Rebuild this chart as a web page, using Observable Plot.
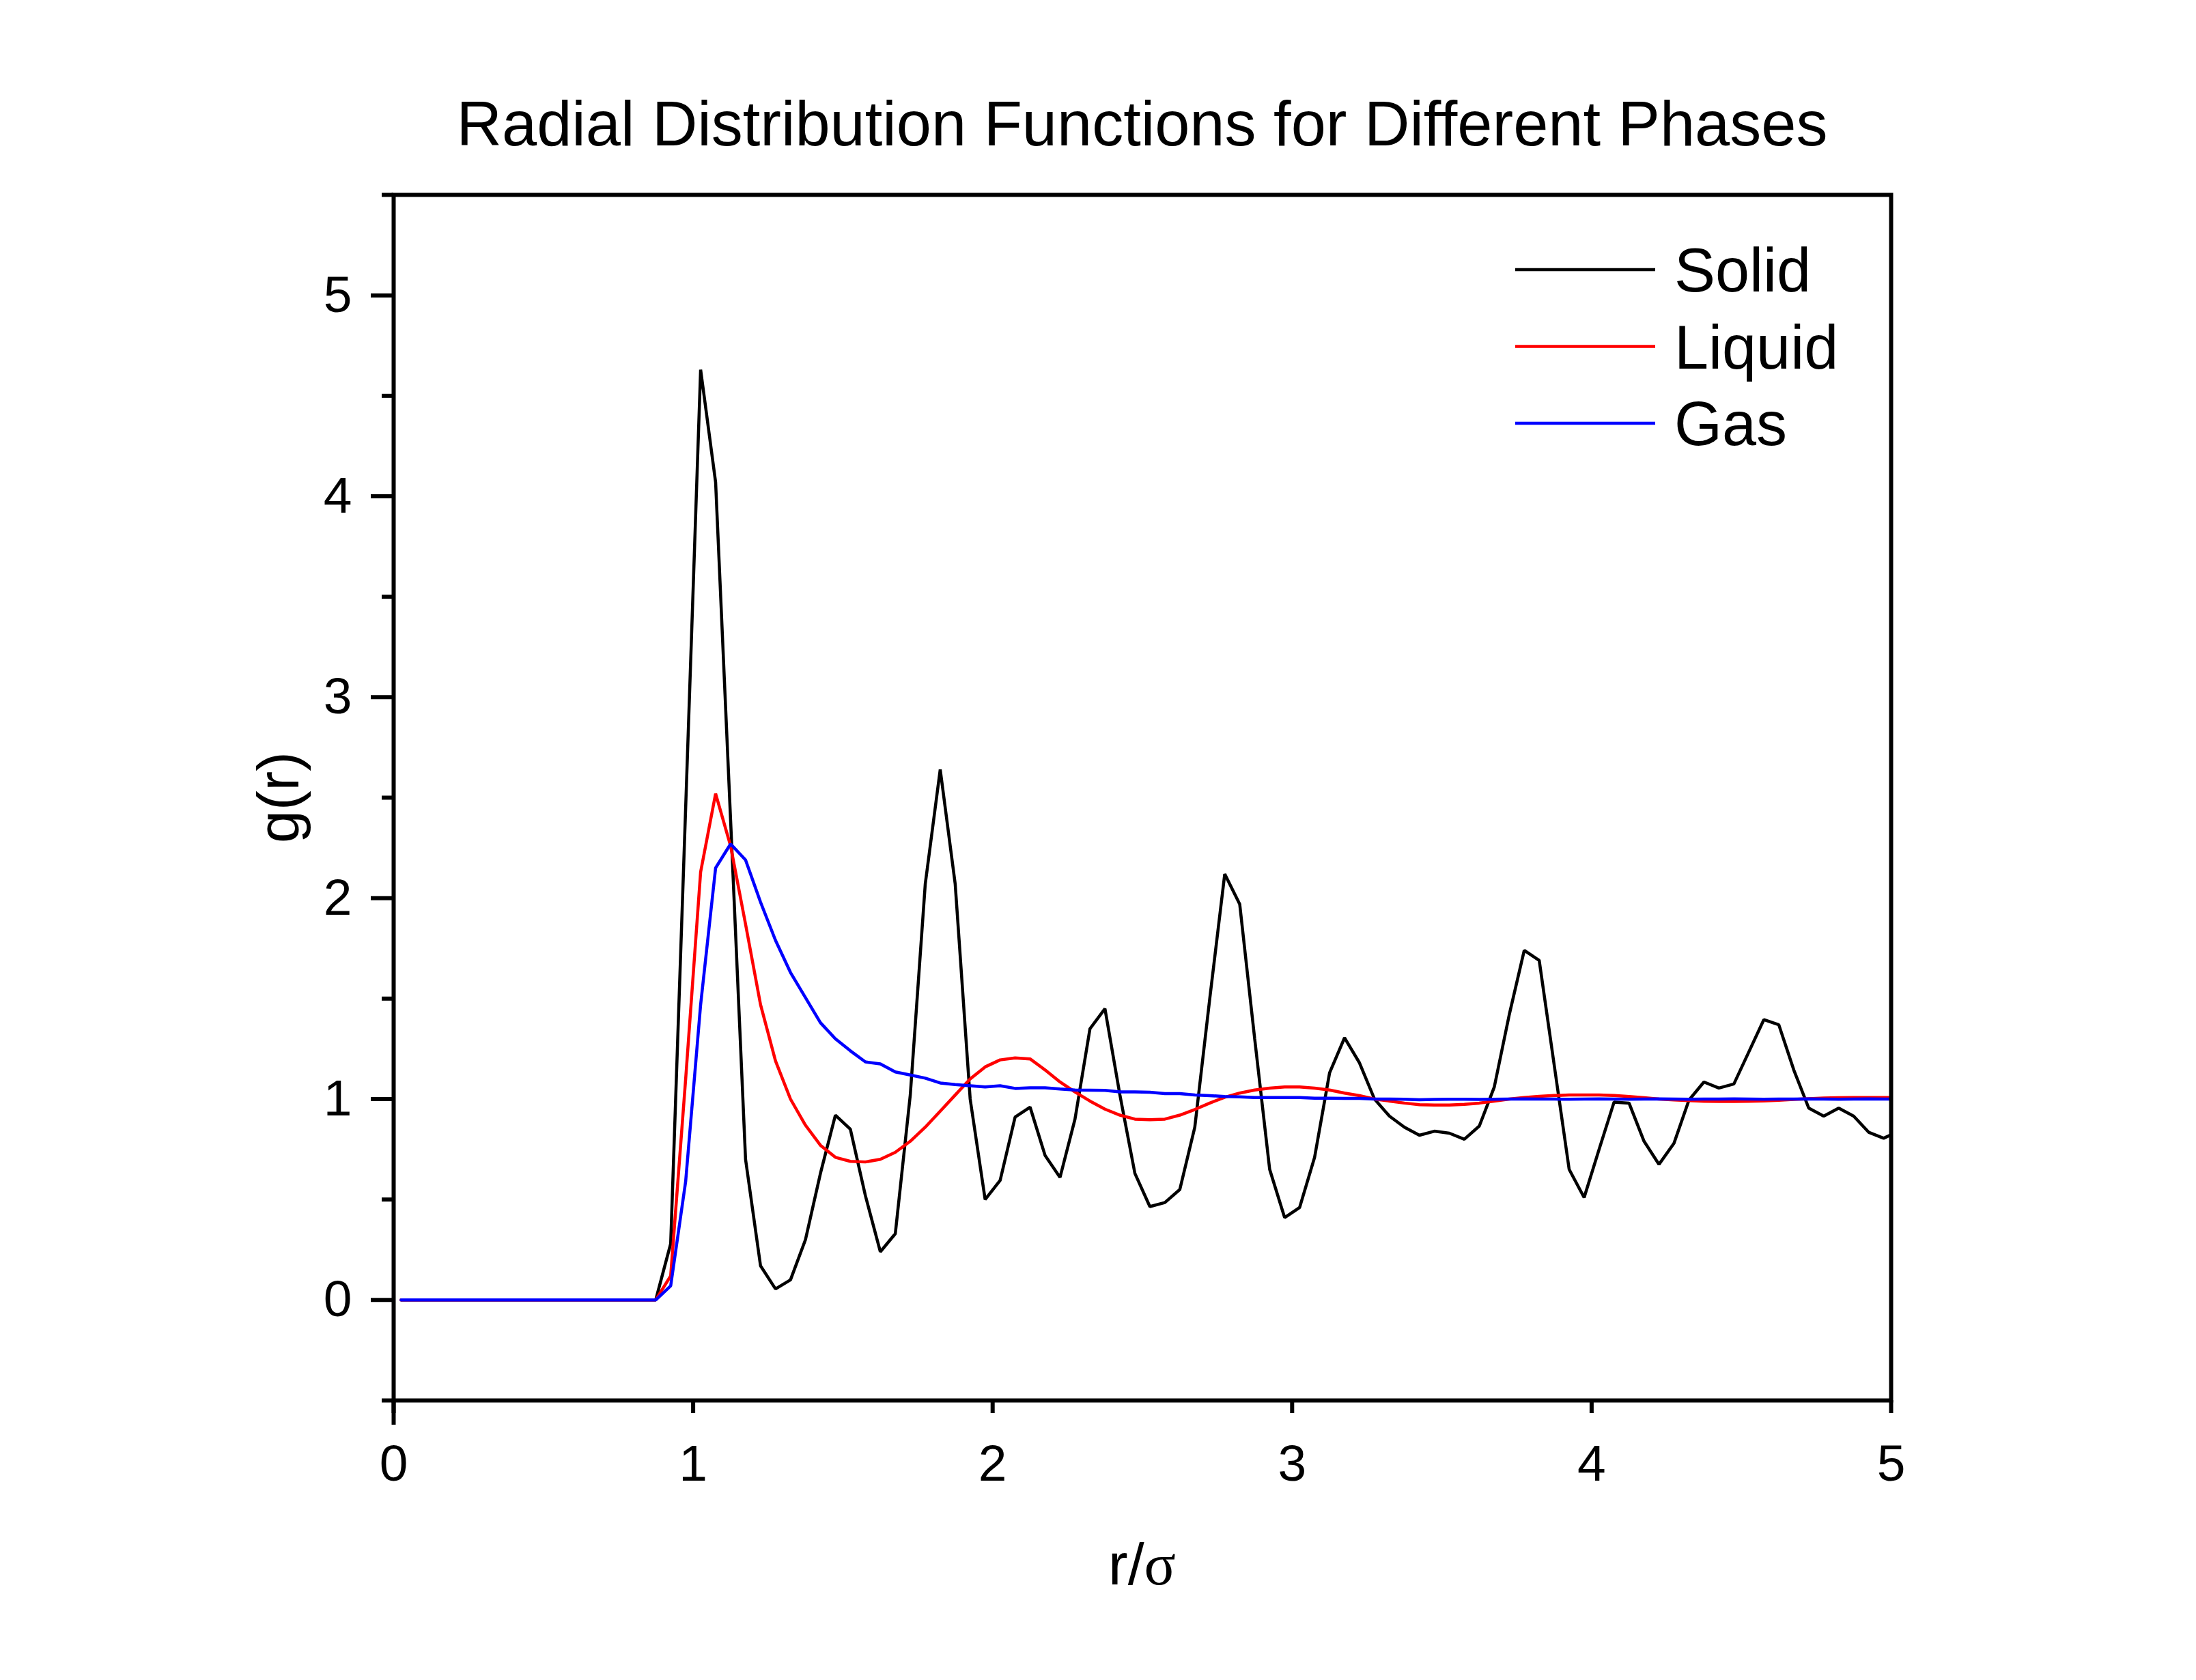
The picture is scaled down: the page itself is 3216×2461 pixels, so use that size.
<!DOCTYPE html>
<html><head><meta charset="utf-8">
<script src="https://cdn.jsdelivr.net/npm/d3@7"></script>
<script src="https://cdn.jsdelivr.net/npm/@observablehq/plot@0.6"></script>
<style>html,body{margin:0;padding:0;background:#fff;}</style>
</head><body><div id="chart"></div>
<script>
const R = [0.025,0.075,0.125,0.175,0.225,0.275,0.325,0.375,0.425,0.475,
0.525,0.575,0.625,0.675,0.725,0.775,0.825,0.875,0.925,0.975,
1.025,1.075,1.125,1.175,1.225,1.275,1.325,1.375,1.425,1.475,
1.525,1.575,1.625,1.675,1.725,1.775,1.825,1.875,1.925,1.975,
2.025,2.075,2.125,2.175,2.225,2.275,2.325,2.375,2.425,2.475,
2.525,2.575,2.625,2.675,2.725,2.775,2.825,2.875,2.925,2.975,
3.025,3.075,3.125,3.175,3.225,3.275,3.325,3.375,3.425,3.475,
3.525,3.575,3.625,3.675,3.725,3.775,3.825,3.875,3.925,3.975,
4.025,4.075,4.125,4.175,4.225,4.275,4.325,4.375,4.425,4.475,
4.525,4.575,4.625,4.675,4.725,4.775,4.825,4.875,4.925,4.975,5.025];

const solid = [0,0,0,0,0,0,0,0,0,0,
0,0,0,0,0,0,0,0,0.28,2.45,
4.63,4.07,2.39,0.70,0.17,0.055,0.10,0.30,0.63,0.92,
0.85,0.52,0.24,0.33,1.02,2.07,2.64,2.07,1.00,0.50,
0.595,0.91,0.96,0.72,0.61,0.90,1.35,1.45,1.02,0.63,
0.465,0.485,0.55,0.86,1.50,2.12,1.97,1.30,0.65,0.41,
0.46,0.71,1.13,1.305,1.18,1.00,0.915,0.86,0.82,0.84,
0.83,0.80,0.866,1.06,1.42,1.74,1.69,1.17,0.65,0.51,
0.75,0.985,0.98,0.79,0.675,0.78,0.995,1.085,1.055,1.075,
1.235,1.395,1.37,1.145,0.955,0.915,0.955,0.915,0.835,0.805,0.84];

const liquid = [0,0,0,0,0,0,0,0,0,0,
0,0,0,0,0,0,0,0,0.12,1.10,
2.13,2.52,2.26,1.87,1.47,1.19,1.00,0.87,0.77,0.71,
0.69,0.687,0.70,0.735,0.79,0.86,0.94,1.02,1.10,1.16,
1.195,1.205,1.20,1.145,1.085,1.035,0.99,0.95,0.92,0.90,
0.897,0.90,0.92,0.948,0.98,1.009,1.03,1.045,1.054,1.06,
1.06,1.054,1.045,1.03,1.017,1.00,0.99,0.98,0.972,0.97,
0.97,0.974,0.98,0.99,1.00,1.008,1.014,1.018,1.02,1.02,
1.02,1.018,1.013,1.007,1.00,0.996,0.992,0.989,0.988,0.988,
0.989,0.991,0.994,0.998,1.002,1.005,1.007,1.008,1.008,1.008,1.008];

const gas = [0,0,0,0,0,0,0,0,0,0,
0,0,0,0,0,0,0,0,0.07,0.59,
1.47,2.15,2.27,2.19,1.98,1.79,1.63,1.505,1.38,1.30,
1.24,1.185,1.175,1.135,1.12,1.104,1.08,1.072,1.066,1.06,
1.066,1.053,1.056,1.056,1.05,1.045,1.044,1.043,1.036,1.036,
1.034,1.027,1.027,1.02,1.017,1.013,1.011,1.008,1.008,1.008,
1.008,1.004,1.004,1.003,1.003,1.00,1.00,0.999,0.997,0.998,
0.999,0.999,0.998,0.999,1.00,1.001,1.00,1.00,0.999,1.00,
1.001,1.00,0.999,1.00,1.001,1.00,0.999,1.00,1.00,1.001,
1.00,0.999,1.00,1.00,1.001,1.00,0.999,1.00,1.001,1.00,1.00];

const phases = ["Solid", "Liquid", "Gas"];
const colors = ["#000000", "#ff0000", "#0000ff"];
const xTicks = [0, 1, 2, 3, 4, 5];
const yTicks = [0, 1, 2, 3, 4, 5];
const yMinorTicks = [-0.5, 0.5, 1.5, 2.5, 3.5, 4.5, 5.5];
const title = "Radial Distribution Functions for Different Phases";
const xLabel = "r/σ";
const yLabel = "g(r)";
const FONT = "'Liberation Sans', Arial, sans-serif";

function annotations(index, scales, values, dim) {
  const g = d3.create("svg:g").attr("font-family", FONT).attr("fill", "black");
  const left = dim.marginLeft, right = dim.width - dim.marginRight;
  const top = dim.marginTop, bottom = dim.height - dim.marginBottom;
  const cx = (left + right) / 2, cy = (top + bottom) / 2;
  g.append("text").attr("x", cx).attr("y", top - 72).attr("text-anchor", "middle")
    .attr("font-size", 92).text(title);
  const xl = g.append("text").attr("x", cx).attr("y", bottom + 270)
    .attr("text-anchor", "middle").attr("font-size", 86);
  xl.append("tspan").text(xLabel.slice(0, -1));
  xl.append("tspan").attr("font-family", "'Liberation Serif', 'DejaVu Serif', serif").text(xLabel.slice(-1));
  g.append("text").attr("transform", `translate(${left - 139},${cy}) rotate(-90)`)
    .attr("text-anchor", "middle").attr("font-size", 86).text(yLabel);
  phases.forEach((p, i) => {
    const y = top + 110 + i * 112.5;
    g.append("line").attr("x1", right - 550).attr("x2", right - 345)
      .attr("y1", y).attr("y2", y).attr("stroke", colors[i]).attr("stroke-width", 4.5);
    g.append("text").attr("x", right - 317).attr("y", y + 32)
      .attr("text-anchor", "start").attr("font-size", 90).text(p);
  });
  return g.node();
}

const series = [solid, liquid, gas];
const fmt = d => String(d);

const chart = Plot.plot({
  width: 3216,
  height: 2461,
  marginLeft: 576,
  marginRight: 447,
  marginTop: 285,
  marginBottom: 410,
  style: {fontFamily: FONT, background: "white", overflow: "visible"},
  x: {domain: [0, 5]},
  y: {domain: [-0.5, 5.5]},
  marks: [
    ...series.map((s, i) => Plot.line(s, {x: R, y: Plot.identity, stroke: colors[i], strokeWidth: 4.5, strokeLinejoin: "miter", clip: true})),
    Plot.frame({stroke: "black", strokeWidth: 6}),
    Plot.axisY(yTicks, {tickSize: 33, tickPadding: 28, fontSize: 75, strokeWidth: 6, tickFormat: fmt, label: null}),
    Plot.axisY(yMinorTicks, {tickSize: 17, text: null, strokeWidth: 6, label: null}),
    Plot.axisX(xTicks, {tickSize: 19, tickPadding: 45, fontSize: 75, strokeWidth: 6, tickFormat: fmt, label: null}),
    Plot.axisX([0], {tickSize: 36, text: null, strokeWidth: 6, label: null}),
    annotations
  ]
});
document.getElementById("chart").appendChild(chart);
</script>
</body></html>
